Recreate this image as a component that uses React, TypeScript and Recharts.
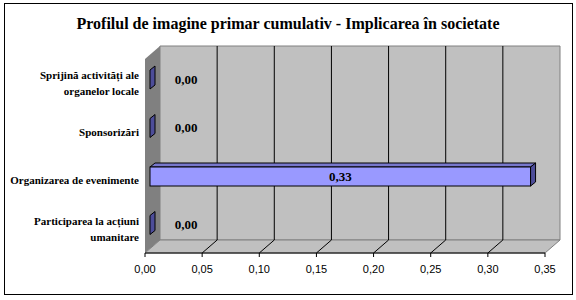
import React from "react";
import { BarChart, Bar, XAxis, YAxis, CartesianGrid } from "recharts";

const TITLE = "Profilul de imagine primar cumulativ - Implicarea în societate";
const CATEGORIES = [
  "Sprijină activități ale organelor locale",
  "Sponsorizări",
  "Organizarea de evenimente",
  "Participarea la acțiuni umanitare",
];
const VALUES = [0, 0, 0.333, 0];
const X_TICKS = [0, 0.05, 0.1, 0.15, 0.2, 0.25, 0.3, 0.35];
const BOUNDARIES = [0, 1, 2, 3, 4];

const data = CATEGORIES.map((name, i) => ({ name, value: VALUES[i] }));

const W = 576;
const H = 300;
// front plane of the plot
const LEFT = 145;
const RIGHT = 545;
const TOP = 59;
const BOTTOM = 253;
// wall depth and bar depth
const DX = 15;
const DY = 13;
const BX = 5;
const BY = 4;
const WRAP_CHARS = 26;

const SERIF = "'Liberation Serif', 'Times New Roman', serif";
const SANS = "'Liberation Sans', Arial, sans-serif";

const fmt = (v: number) => v.toFixed(2).replace(".", ",");

// greedy word wrap on character count
function wrap(s: string): string[] {
  const lines: string[] = [];
  let cur = "";
  s.split(" ").forEach((word) => {
    const next = cur ? cur + " " + word : word;
    if (next.length > WRAP_CHARS && cur) {
      lines.push(cur);
      cur = word;
    } else cur = next;
  });
  if (cur) lines.push(cur);
  return lines;
}

// recharts 3 may hand over a plain d3 scale or a wrapper with .map()
function scaleValue(s: any, v: number): number | null {
  if (!s) return null;
  if (typeof s === "function") return s(v);
  if (typeof s.map === "function") return s.map(v);
  if (typeof s.scale === "function") return s.scale(v);
  return null;
}

function Backdrop() {
  const pts = (p: number[][]) => p.map((q) => q.join(",")).join(" ");
  return (
    <svg width={W} height={H} style={{ position: "absolute", left: 0, top: 0 }}>
      <rect x={0} y={0} width={W} height={H} fill="#fff" />
      <rect x={4.5} y={3.5} width={568} height={291} fill="none" stroke="#000" />
      <text
        x={288}
        y={29}
        textAnchor="middle"
        fontFamily={SERIF}
        fontWeight="bold"
        fontSize={16}
        fill="#000"
      >
        {TITLE}
      </text>
      {/* back wall */}
      <polygon
        points={pts([
          [LEFT + DX, TOP - DY],
          [RIGHT + DX, TOP - DY],
          [RIGHT + DX, BOTTOM - DY],
          [LEFT + DX, BOTTOM - DY],
        ])}
        fill="#C0C0C0"
        stroke="#808080"
      />
      {/* side wall */}
      <polygon
        points={pts([
          [LEFT, TOP],
          [LEFT + DX, TOP - DY],
          [LEFT + DX, BOTTOM - DY],
          [LEFT, BOTTOM],
        ])}
        fill="#808080"
      />
      {/* floor */}
      <polygon
        points={pts([
          [LEFT, BOTTOM],
          [RIGHT, BOTTOM],
          [RIGHT + DX, BOTTOM - DY],
          [LEFT + DX, BOTTOM - DY],
        ])}
        fill="#C0C0C0"
        stroke="#808080"
      />
    </svg>
  );
}

function Bar3D(props: any) {
  const { x, y, width, height, payload } = props;
  const w = Math.max(width || 0, 0);
  const fx = x + BX;
  const fy = y - BY;
  const r = fx + w;
  const label = fmt(payload.value);
  const lx = w > 30 ? fx + w / 2 : fx + 36;
  return (
    <g>
      {w > 0 && (
        <polygon
          points={`${fx},${fy} ${r},${fy} ${r + BX},${fy - BY} ${fx + BX},${fy - BY}`}
          fill="#7777CC"
          stroke="#000"
        />
      )}
      {w > 0 && (
        <rect x={fx} y={fy} width={w} height={height} fill="#9999FF" stroke="#000" />
      )}
      <polygon
        points={`${r},${fy} ${r + BX},${fy - BY} ${r + BX},${fy + height - BY} ${r},${fy + height}`}
        fill="#4D4D99"
        stroke="#000"
      />
      <text
        x={lx}
        y={fy + height / 2 + 4}
        textAnchor="middle"
        fontFamily={SERIF}
        fontWeight="bold"
        fontSize={13}
        fill="#000"
      >
        {label}
      </text>
    </g>
  );
}

function FloorTick(props: any) {
  const { x, y, payload } = props;
  const axisY = y - 4 - 2;
  const v = payload.value;
  const inner = v > 0 && v < X_TICKS[X_TICKS.length - 1];
  return (
    <g>
      {inner && (
        <line x1={x} y1={axisY} x2={x + DX} y2={axisY - DY} stroke="#000" />
      )}
      <text x={x} y={axisY + 20} textAnchor="middle" fontFamily={SANS} fontSize={11} fill="#000">
        {fmt(v)}
      </text>
    </g>
  );
}

function CategoryTick(props: any) {
  const { x, y, payload } = props;
  const lines = wrap(String(payload.value));
  const lh = 16;
  const y0 = y - ((lines.length - 1) * lh) / 2 + 4;
  return (
    <text
      textAnchor="end"
      fontFamily={SERIF}
      fontWeight="bold"
      fontSize={11}
      fill="#000"
    >
      {lines.map((ln, i) => (
        <tspan key={i} x={x} y={y0 + i * lh}>
          {ln}
        </tspan>
      ))}
    </text>
  );
}

function backGridLines({ xAxis }: any): number[] {
  const s = xAxis ? xAxis.scale : null;
  const out: number[] = [];
  X_TICKS.slice(1, -1).forEach((v) => {
    const px = scaleValue(s, v);
    if (px != null && isFinite(px)) out.push(px + DX);
  });
  return out;
}

export default function App() {
  return (
    <div style={{ position: "absolute", left: 0, top: 0, width: W, height: H }}>
      <Backdrop />
      <div style={{ position: "absolute", left: 0, top: 0 }}>
        <BarChart
          width={W}
          height={H}
          data={data}
          layout="vertical"
          margin={{ top: TOP, right: W - RIGHT, bottom: H - BOTTOM - 30, left: LEFT - 140 }}
        >
          <CartesianGrid
            horizontal={false}
            y={TOP - DY}
            height={BOTTOM - TOP}
            stroke="#000"
            verticalCoordinatesGenerator={backGridLines}
          />
          <XAxis
            type="number"
            domain={[0, 0.35]}
            ticks={X_TICKS}
            height={30}
            tickSize={4}
            tickMargin={2}
            axisLine={{ stroke: "#000" }}
            tickLine={{ stroke: "#000" }}
            tick={<FloorTick />}
            interval={0}
          />
          <YAxis
            yAxisId={0}
            type="number"
            domain={[0, 4]}
            ticks={BOUNDARIES}
            width={0}
            tick={false}
            tickSize={4}
            axisLine={{ stroke: "#000" }}
            tickLine={{ stroke: "#000" }}
          />
          <YAxis
            yAxisId="cat"
            type="category"
            dataKey="name"
            width={140}
            axisLine={false}
            tickLine={false}
            tickSize={0}
            tickMargin={6}
            tick={<CategoryTick />}
            interval={0}
          />
          <Bar
            yAxisId="cat"
            dataKey="value"
            barSize={19}
            shape={<Bar3D />}
            isAnimationActive={false}
          />
        </BarChart>
      </div>
    </div>
  );
}
